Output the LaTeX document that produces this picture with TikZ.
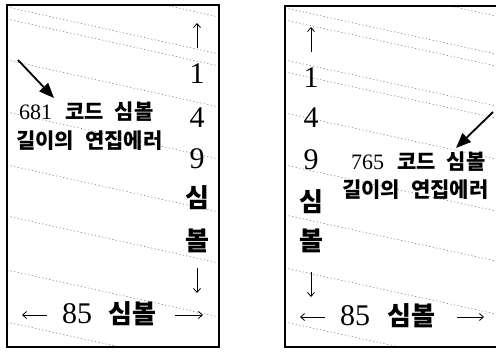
\documentclass[tikz,border=0pt]{standalone}
\usepackage{fontspec}
\setmainfont{Liberation Serif}
\newfontfamily\kr{Noto Sans CJK KR}
\usetikzlibrary{arrows.meta}
\tikzset{
  boxline/.style={line width=1.2pt, black},
  hatch/.style={gray, line width=0.6pt, dash pattern=on 1.2pt off 2.4pt},
  dig/.style={inner sep=0pt, font=\fontsize{30}{30}\selectfont},
  kcol/.style={inner sep=0pt, font=\kr\bfseries\fontsize{26}{26}\selectfont},
  kbig/.style={inner sep=0pt, font=\kr\bfseries\fontsize{26}{26}\selectfont},
  num/.style={inner sep=0pt, font=\fontsize{30}{30}\selectfont},
  lbl/.style={inner sep=0pt, anchor=west, font=\fontsize{21}{21}\selectfont},
  thinarr/.style={line width=0.8pt, -{Straight Barb[length=4pt,width=7pt]}},
  bigarr/.style={line width=1.8pt, -{Triangle[length=15pt,width=12pt]}}
}
\begin{document}
\begin{tikzpicture}[x=1pt,y=-1pt]
\useasboundingbox (0,0) rectangle (496,353);
% ---------- left panel ----------
\begin{scope}
  \clip (7,5) rectangle (219,347);
  \foreach \y in {-30,7,19,60,112,165,216,270,322}
    \draw[hatch] (7,\y) -- (219,{\y+47});
\end{scope}
\draw[boxline] (7,5) rectangle (219,347);

\coordinate (lua) at (197,48);
\coordinate (lub) at (197,23);
\draw[thinarr] (lua) -- (lub);
\node[dig] (l1) at (197,74) {1};
\node[dig] (l4) at (197,118) {4};
\node[dig] (l9) at (197,159) {9};
\node[kcol] (ls) at (197,198) {심};
\node[kcol] (lb) at (197,241) {볼};
\coordinate (lda) at (197,268);
\coordinate (ldb) at (197,293);
\draw[thinarr] (lda) -- (ldb);

\node[num] (l85) at (77,314) {85};
\node[kbig] (lsb) at (132,314) {심볼};
\coordinate (lla) at (47,315);
\coordinate (llb) at (22,315);
\coordinate (lra) at (175,315);
\coordinate (lrb) at (203,315);
\draw[thinarr] (lla) -- (llb);
\draw[thinarr] (lra) -- (lrb);

\node[lbl] (lt1) at (19,112) {\fontsize{22}{22}\selectfont 681\hspace{13pt}{\kr\bfseries\fontsize{21}{21}\selectfont 코드\hspace{11pt}심볼}};
\node[lbl] (lt2) at (16,141) {\kr\bfseries 길이의\hspace{11pt}연집에러};
\coordinate (lba) at (18,60);
\coordinate (lbb) at (54,98);
\draw[bigarr] (lba) -- (lbb);

% ---------- right panel ----------
\begin{scope}
  \clip (285,6) rectangle (496,347);
  \foreach \y in {-30,8,20,60,72,113,165,215,268,322}
    \draw[hatch] (285,\y) -- (496,{\y+46});
\end{scope}
\draw[boxline] (496,6) -- (285,6) -- (285,347) -- (496,347);

\coordinate (rua) at (311,52);
\coordinate (rub) at (311,27);
\draw[thinarr] (rua) -- (rub);
\node[dig] (r1) at (311,78) {1};
\node[dig] (r4) at (311,118) {4};
\node[dig] (r9) at (311,160) {9};
\node[kcol] (rs) at (311,202) {심};
\node[kcol] (rb) at (311,241) {볼};
\coordinate (rda) at (311,272);
\coordinate (rdb) at (311,297);
\draw[thinarr] (rda) -- (rdb);

\node[num] (r85) at (355,316) {85};
\node[kbig] (rsb) at (411,316) {심볼};
\coordinate (rla) at (325,317);
\coordinate (rlb) at (300,317);
\coordinate (rra) at (457,317);
\coordinate (rrb) at (484,317);
\draw[thinarr] (rla) -- (rlb);
\draw[thinarr] (rra) -- (rrb);

\node[lbl] (rt1) at (351,162) {\fontsize{22}{22}\selectfont 765\hspace{13pt}{\kr\bfseries\fontsize{21}{21}\selectfont 코드\hspace{11pt}심볼}};
\node[lbl] (rt2) at (342,190) {\kr\bfseries 길이의\hspace{11pt}연집에러};
\coordinate (rba) at (493,112);
\coordinate (rbb) at (456,148);
\draw[bigarr] (rba) -- (rbb);
\end{tikzpicture}
\end{document}
